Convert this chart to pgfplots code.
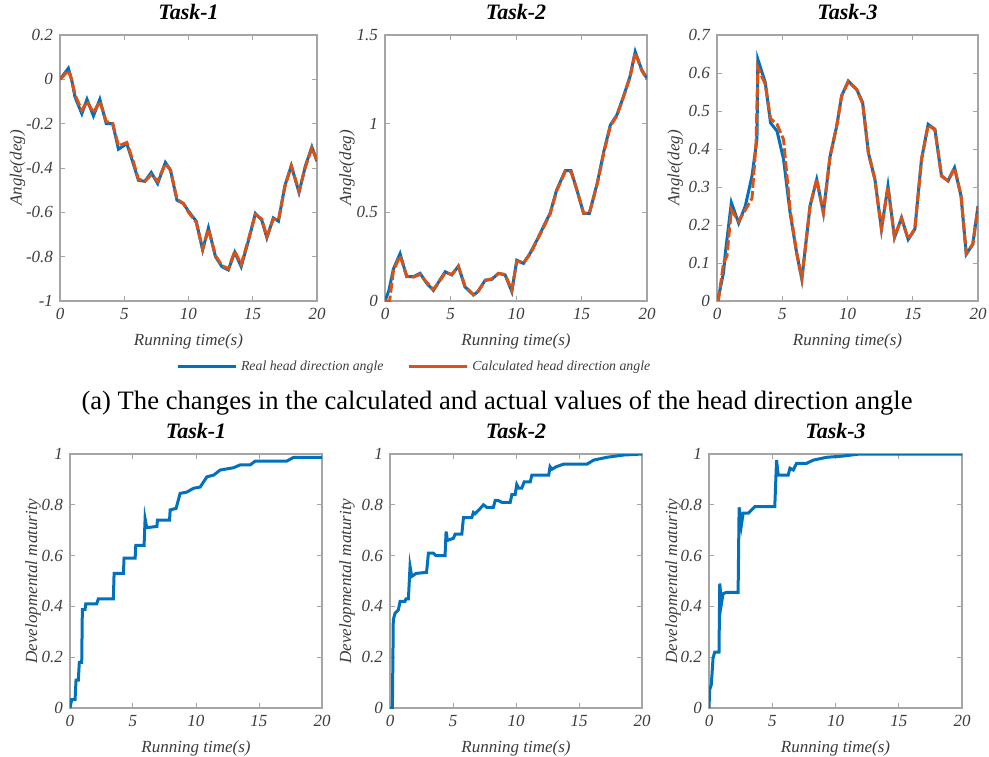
\documentclass[border=0pt]{standalone}
\usepackage{pgfplots}
\pgfplotsset{compat=1.18}
\usepackage{fontspec}
\setmainfont{Liberation Serif}

\definecolor{mblue}{RGB}{0,114,189}
\definecolor{morange}{RGB}{217,83,25}
\definecolor{framegray}{RGB}{165,165,165}
\definecolor{txtgray}{RGB}{60,60,60}

\pgfplotsset{
  panel/.style={
    scale only axis,
    anchor=south west,
    xmin=0, xmax=20,
    xtick={0,5,10,15,20},
    tick align=inside,
    major tick length=2.5pt,
    axis line style={framegray, line width=0.6pt},
    tick style={framegray, line width=0.5pt},
    ticklabel style={font=\fontsize{8.5}{10}\selectfont\itshape, text=txtgray},
    /pgf/number format/assume math mode=true,
    label style={font=\fontsize{8.5}{10}\selectfont\itshape, text=txtgray},
    title style={font=\fontsize{11}{12}\selectfont\bfseries\itshape, yshift=-2pt},
    xlabel={Running time(s)},
  },
  ylab/.style={ylabel style={at={(axis description cs:#1,0.5)}, anchor=center}},
  real/.style={mblue, line width=1.5pt},
  calc/.style={morange, line width=1.5pt, dash pattern=on 5pt off 1.5pt},
  mat/.style={mblue, line width=1.5pt},
}

\begin{document}
\begin{tikzpicture}
\path[use as bounding box] (0,0) rectangle (494.5pt,-378pt);

% ---------- top row: head direction angle ----------
\begin{axis}[panel, at={(30pt,-150.5pt)}, width=128.5pt, height=133pt,
  title={Task-1}, ylabel={Angle(deg)}, ylab=-0.165,
  ymin=-1, ymax=0.2, ytick={-1,-0.8,-0.6,-0.4,-0.2,0,0.2}]
\addplot[real] coordinates {
(0,0)(0.65,0.05)(0.9,0)(1.17,-0.08)(1.7,-0.155)(2.1,-0.09)(2.6,-0.165)(3.1,-0.09)
(3.6,-0.2)(4.1,-0.2)(4.55,-0.315)(5.2,-0.29)(5.7,-0.38)(6.1,-0.455)(6.6,-0.46)
(7.1,-0.42)(7.6,-0.47)(8.2,-0.375)(8.6,-0.41)(9.1,-0.545)(9.6,-0.56)(10.0,-0.595)
(10.6,-0.64)(11.1,-0.77)(11.55,-0.67)(12.1,-0.8)(12.6,-0.845)(13.1,-0.86)(13.6,-0.78)
(14.1,-0.845)(14.7,-0.72)(15.2,-0.605)(15.7,-0.635)(16.1,-0.715)(16.6,-0.625)
(17.0,-0.64)(17.5,-0.48)(18.0,-0.39)(18.6,-0.51)(19.1,-0.39)(19.6,-0.305)(20,-0.37)
};
\addplot[calc] coordinates {
(0,0)(0.65,0.04)(0.9,0)(1.17,-0.07)(1.7,-0.14)(2.1,-0.1)(2.6,-0.15)(3.1,-0.1)
(3.6,-0.19)(4.1,-0.2)(4.55,-0.3)(5.2,-0.285)(5.7,-0.37)(6.1,-0.45)(6.6,-0.46)
(7.1,-0.43)(7.6,-0.46)(8.2,-0.38)(8.6,-0.41)(9.1,-0.54)(9.6,-0.56)(10.0,-0.6)
(10.6,-0.645)(11.1,-0.765)(11.55,-0.675)(12.1,-0.795)(12.6,-0.84)(13.1,-0.855)
(13.6,-0.775)(14.1,-0.835)(14.7,-0.715)(15.2,-0.61)(15.7,-0.63)(16.1,-0.71)
(16.6,-0.63)(17.0,-0.635)(17.5,-0.485)(18.0,-0.39)(18.6,-0.505)(19.1,-0.395)
(19.6,-0.31)(20,-0.365)
};
\end{axis}

\begin{axis}[panel, at={(192.5pt,-150.5pt)}, width=131pt, height=133pt,
  title={Task-2}, ylabel={Angle(deg)}, ylab=-0.145,
  ymin=0, ymax=1.5, ytick={0,0.5,1,1.5},
  legend style={at={(0.115,-0.248)}, anchor=center, draw=none, fill=none,
    legend columns=2, font=\fontsize{6.9}{8}\selectfont\itshape, text=txtgray,
    /tikz/every even column/.append style={column sep=10pt}},
  legend image code/.code={\draw[#1] (0pt,0pt) -- (29pt,0pt);}]
\addplot[real, forget plot] coordinates {
(0,0)(0.3,0.06)(0.64,0.18)(1.15,0.267)(1.66,0.137)(2.17,0.137)(2.68,0.156)(3.18,0.1)
(3.7,0.06)(4.2,0.12)(4.6,0.165)(5.1,0.147)(5.6,0.197)(6.1,0.08)(6.75,0.034)(7.1,0.053)
(7.65,0.118)(8.15,0.122)(8.66,0.156)(9.17,0.147)(9.68,0.053)(10.06,0.23)(10.57,0.212)
(11.08,0.27)(11.6,0.344)(12.1,0.42)(12.6,0.494)(13.1,0.626)(13.76,0.735)(14.2,0.735)
(14.65,0.626)(15.16,0.494)(15.6,0.494)(16.2,0.664)(16.7,0.842)(17.2,0.992)(17.7,1.049)
(18.2,1.152)(18.7,1.265)(19.1,1.406)(19.6,1.303)(20,1.256)
};
\addplot[calc, forget plot] coordinates {
(0,0)(0.35,0)(0.64,0.17)(1.15,0.255)(1.66,0.14)(2.17,0.135)(2.68,0.15)(3.18,0.105)
(3.7,0.065)(4.2,0.115)(4.6,0.16)(5.1,0.15)(5.6,0.195)(6.1,0.085)(6.75,0.035)(7.1,0.055)
(7.65,0.115)(8.15,0.125)(8.66,0.155)(9.17,0.15)(9.68,0.06)(10.06,0.225)(10.57,0.215)
(11.08,0.265)(11.6,0.34)(12.1,0.415)(12.6,0.49)(13.1,0.62)(13.76,0.73)(14.2,0.73)
(14.65,0.625)(15.16,0.495)(15.6,0.495)(16.2,0.66)(16.7,0.835)(17.2,0.985)(17.7,1.045)
(18.2,1.15)(18.7,1.26)(19.1,1.4)(19.6,1.3)(20,1.25)
};
\addlegendimage{real}
\addlegendentry{Real head direction angle}
\addlegendimage{morange, line width=1.5pt}
\addlegendentry{Calculated head direction angle}
\end{axis}

\begin{axis}[panel, at={(358.5pt,-150.5pt)}, width=130.5pt, height=133pt,
  title={Task-3}, ylabel={Angle(deg)}, ylab=-0.16,
  ymin=0, ymax=0.7, ytick={0,0.1,0.2,0.3,0.4,0.5,0.6,0.7}]
\addplot[real] coordinates {
(0.05,0)(0.5,0.075)(0.64,0.127)(1.1,0.259)(1.66,0.205)(2.17,0.25)(2.68,0.329)(3.06,0.425)
(3.13,0.636)(3.7,0.575)(4.1,0.469)(4.6,0.447)(5.1,0.373)(5.6,0.232)(6.1,0.127)(6.5,0.057)
(7.13,0.25)(7.64,0.32)(8.15,0.232)(8.66,0.38)(9.17,0.46)(9.55,0.54)(10.06,0.579)
(10.7,0.557)(11.16,0.522)(11.6,0.39)(12.1,0.32)(12.6,0.189)(13.1,0.303)(13.6,0.167)
(14.14,0.219)(14.65,0.162)(15.16,0.189)(15.67,0.373)(16.18,0.465)(16.7,0.452)
(17.2,0.329)(17.7,0.316)(18.2,0.351)(18.7,0.276)(19.1,0.123)(19.6,0.149)(20,0.25)
};
\addplot[calc] coordinates {
(0.1,0)(0.5,0.1)(0.76,0.118)(1.1,0.24)(1.66,0.21)(2.17,0.24)(2.68,0.27)(3.0,0.42)
(3.13,0.615)(3.7,0.57)(4.1,0.48)(4.6,0.465)(5.1,0.425)(5.6,0.24)(6.1,0.127)(6.5,0.06)
(7.13,0.25)(7.64,0.32)(8.15,0.232)(8.66,0.38)(9.17,0.46)(9.55,0.54)(10.06,0.577)
(10.7,0.557)(11.16,0.52)(11.6,0.39)(12.1,0.32)(12.6,0.19)(13.1,0.3)(13.6,0.168)
(14.14,0.218)(14.65,0.163)(15.16,0.19)(15.67,0.372)(16.18,0.463)(16.7,0.45)
(17.2,0.33)(17.7,0.316)(18.2,0.35)(18.7,0.277)(19.1,0.125)(19.6,0.15)(20,0.248)
};
\end{axis}

\node[font=\fontsize{13.3}{15}\selectfont] at (248.5pt,-201.5pt)
  {(a) The changes in the calculated and actual values of the head direction angle};

% ---------- bottom row: developmental maturity ----------
\begin{axis}[panel, at={(35pt,-354pt)}, width=126pt, height=127pt,
  title={Task-1}, ylabel={Developmental maturity}, ylab=-0.147,
  ymin=0, ymax=1, ytick={0,0.2,0.4,0.6,0.8,1}]
\addplot[mat] coordinates {
(0,0)(0.13,0.033)(0.4,0.033)(0.48,0.11)(0.66,0.11)(0.74,0.18)(0.93,0.18)(0.98,0.387)
(1.19,0.387)(1.25,0.41)(2.12,0.41)(2.25,0.43)(3.44,0.43)(3.5,0.53)(4.24,0.53)(4.29,0.59)
(5.17,0.59)(5.22,0.64)(5.88,0.64)(5.96,0.745)(6.09,0.71)(6.9,0.715)(6.94,0.74)(7.9,0.74)
(7.95,0.78)(8.42,0.786)(8.74,0.845)(9.27,0.85)(9.8,0.865)(10.33,0.87)(10.6,0.89)
(10.86,0.91)(11.4,0.917)(11.92,0.937)(12.98,0.946)(13.5,0.957)(14.3,0.957)(14.7,0.972)
(17.2,0.972)(17.75,0.987)(20,0.987)
};
\end{axis}

\begin{axis}[panel, at={(195pt,-354pt)}, width=126pt, height=127pt,
  title={Task-2}, ylabel={Developmental maturity}, ylab=-0.17,
  ymin=0, ymax=1, ytick={0,0.2,0.4,0.6,0.8,1}]
\addplot[mat] coordinates {
(0,0)(0.19,0)(0.26,0.347)(0.4,0.373)(0.66,0.386)(0.8,0.42)(1.19,0.42)(1.27,0.43)
(1.46,0.43)(1.59,0.557)(1.72,0.518)(2.07,0.53)(2.9,0.534)(3.05,0.61)(3.44,0.61)
(3.65,0.6)(4.37,0.6)(4.45,0.695)(4.56,0.66)(5.03,0.668)(5.17,0.685)(5.7,0.685)
(5.83,0.75)(6.49,0.75)(6.62,0.77)(6.75,0.765)(7.02,0.778)(7.42,0.8)(7.68,0.79)(8.2,0.79)
(8.35,0.817)(8.6,0.817)(8.87,0.81)(9.54,0.81)(9.67,0.84)(9.93,0.84)(10.06,0.88)
(10.2,0.866)(10.46,0.866)(10.65,0.89)(11.13,0.89)(11.26,0.917)(12.6,0.917)(12.7,0.95)
(12.85,0.94)(13.2,0.95)(13.77,0.96)(15.63,0.96)(16.16,0.976)(17.2,0.987)(18.54,0.996)
(20,1.0)
};
\end{axis}

\begin{axis}[panel, at={(354.5pt,-354pt)}, width=126.5pt, height=127pt,
  title={Task-3}, ylabel={Developmental maturity}, ylab=-0.142,
  ymin=0, ymax=1, ytick={0,0.2,0.4,0.6,0.8,1}]
\addplot[mat] coordinates {
(0,0)(0.05,0.072)(0.18,0.092)(0.26,0.15)(0.32,0.197)(0.45,0.22)(0.79,0.22)(0.85,0.49)
(0.98,0.41)(1.11,0.45)(1.37,0.455)(2.3,0.455)(2.38,0.79)(2.56,0.72)(2.7,0.767)(3.1,0.767)
(3.62,0.793)(5.2,0.793)(5.34,0.976)(5.47,0.917)(6.26,0.917)(6.4,0.944)(6.66,0.937)
(6.92,0.963)(7.7,0.963)(8.24,0.976)(9.3,0.987)(10.6,0.992)(11.9,1.0)(20,1.0)
};
\end{axis}
\end{tikzpicture}
\end{document}
